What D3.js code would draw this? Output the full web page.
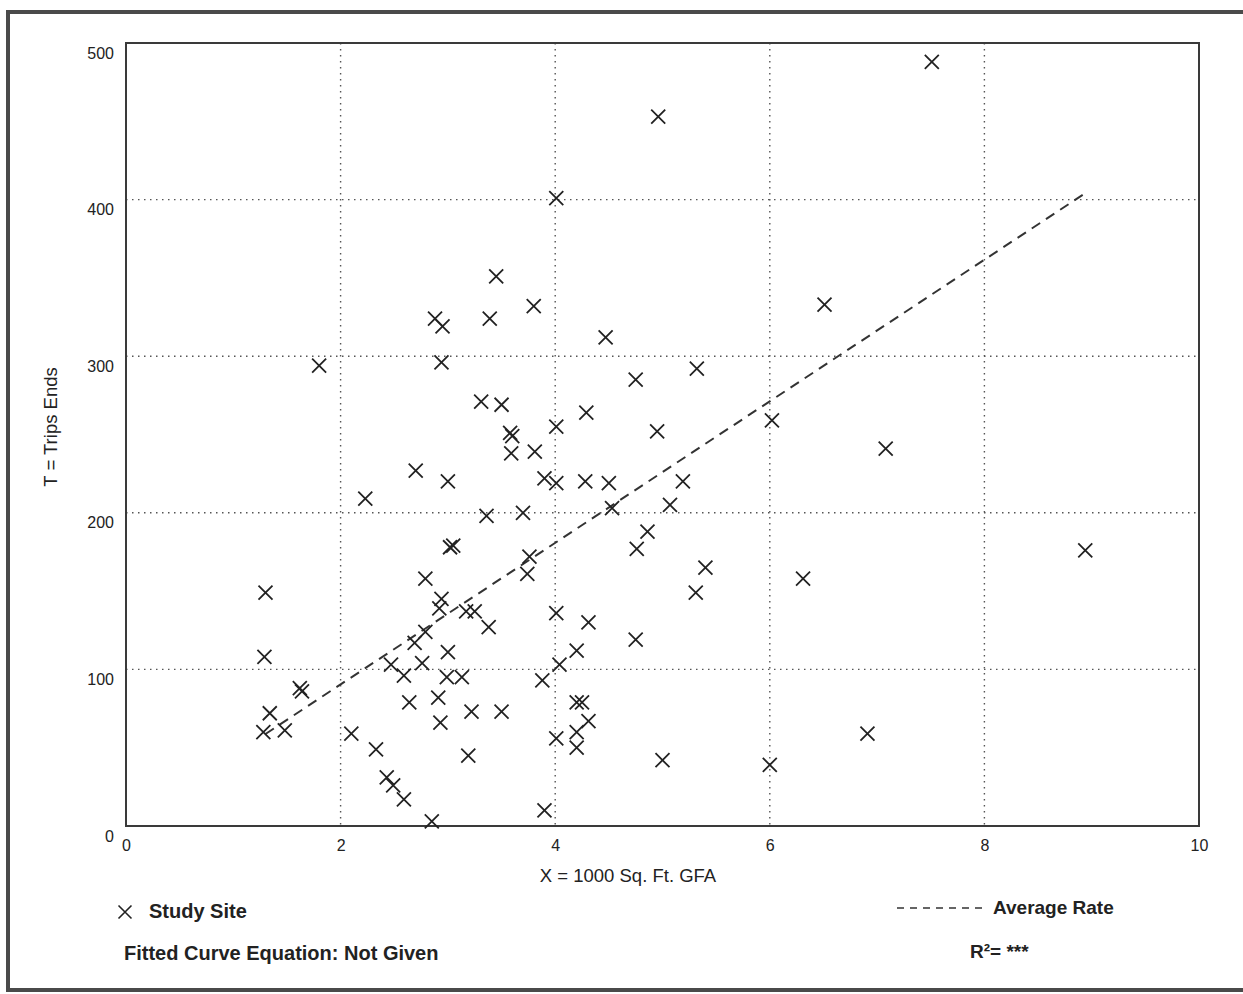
<!DOCTYPE html>
<html>
<head>
<meta charset="utf-8">
<script src="https://d3js.org/d3.v7.min.js"></script>
<style>
  body { margin: 0; background: #fff; }
  text { font-family: "Liberation Sans", Arial, sans-serif; fill: #222; }
</style>
</head>
<body>
<div id="my_dataviz"></div>
<script>
// study sites, x = 1000 sq ft GFA, y = trip ends
var siteX = [7.51, 4.96, 4.01, 3.45, 3.80, 2.88, 2.95, 3.39, 6.51, 4.47,
             2.94, 1.80, 5.32, 4.75, 3.31, 3.50, 4.29, 4.01, 4.95, 3.58,
             3.60, 3.59, 3.81, 6.02, 7.08, 2.70, 3.00, 2.23, 3.90, 4.01,
             4.28, 4.50, 5.19, 3.36, 3.70, 4.53, 5.07, 4.86, 3.02, 3.05,
             4.76, 3.76, 3.74, 5.40, 8.94, 6.31, 2.79, 1.30, 5.31, 2.94,
             2.92, 3.17, 3.25, 4.01, 3.38, 4.31, 2.79, 2.69, 4.75, 1.29,
             3.00, 4.20, 4.04, 2.47, 2.76, 2.59, 2.99, 3.13, 3.88, 1.62,
             1.64, 2.91, 2.64, 4.20, 4.25, 3.22, 3.50, 1.34, 2.93, 4.31,
             4.20, 1.28, 1.48, 2.10, 4.01, 6.91, 4.20, 2.33, 3.19, 5.00,
             6.00, 2.43, 2.49, 2.59, 3.90, 2.85];
var siteY = [488, 453, 401, 351, 332, 324, 319, 324, 333, 312,
             296, 294, 292, 285, 271, 269, 264, 255, 252, 251,
             249, 238, 239, 259, 241, 227, 220, 209, 222, 219,
             220, 219, 220, 198, 200, 203, 205, 188, 178, 179,
             177, 172, 161, 165, 176, 158, 158, 149, 149, 145,
             139, 137, 137, 136, 127, 130, 124, 117, 119, 108,
             111, 112, 103, 103, 104, 96, 95, 95, 93, 88,
             86, 82, 79, 79, 79, 73, 73, 72, 66, 67,
             60, 60, 61, 59, 56, 59, 50, 49, 45, 42,
             39, 31, 26, 17, 10, 3];

var avgRate = 45.2;          // trips per 1000 sq ft
var avgFrom = 1.3, avgTo = 8.95;

var xTicks = [0, 2, 4, 6, 8, 10];
var yTicks = [0, 100, 200, 300, 400, 500];

var W = 1243, H = 994;
var plot = {left: 126, right: 1199, top: 43, bottom: 826};
var font = "'Liberation Sans', Arial, sans-serif";

var svg = d3.select("#my_dataviz")
  .append("svg")
  .attr("width", W)
  .attr("height", H);

// outer frame of the page
svg.append("rect")
  .attr("x", 8).attr("y", 12)
  .attr("width", 1250).attr("height", 978)
  .attr("fill", "none")
  .attr("stroke", "#4a4a4a")
  .attr("stroke-width", 4);

var x = d3.scaleLinear().domain([0, 10]).range([plot.left, plot.right]);
var y = d3.scaleLinear().domain([0, 500]).range([plot.bottom, plot.top]);

var data = siteX.map(function(d, i) { return {x: d, y: siteY[i]}; });

// grid
svg.append("g")
  .selectAll("line")
  .data(xTicks.filter(function(d) { return d > 0 && d < 10; }))
  .enter().append("line")
  .attr("x1", function(d) { return x(d); })
  .attr("x2", function(d) { return x(d); })
  .attr("y1", plot.top).attr("y2", plot.bottom)
  .attr("stroke", "#555")
  .attr("stroke-width", 1.4)
  .attr("stroke-dasharray", "1.5,4.5");

svg.append("g")
  .selectAll("line")
  .data(yTicks.filter(function(d) { return d > 0 && d < 500; }))
  .enter().append("line")
  .attr("y1", function(d) { return y(d); })
  .attr("y2", function(d) { return y(d); })
  .attr("x1", plot.left).attr("x2", plot.right)
  .attr("stroke", "#555")
  .attr("stroke-width", 1.4)
  .attr("stroke-dasharray", "1.5,4.5");

// plot frame
svg.append("rect")
  .attr("x", plot.left).attr("y", plot.top)
  .attr("width", plot.right - plot.left)
  .attr("height", plot.bottom - plot.top)
  .attr("fill", "none")
  .attr("stroke", "#3a3a3a")
  .attr("stroke-width", 2);

// axes (labels only, the frame is the axis line)
var xAxis = svg.append("g")
  .attr("transform", "translate(0," + (plot.bottom + 14) + ")")
  .call(d3.axisBottom(x).tickValues(xTicks).tickSize(0).tickPadding(0));
xAxis.select(".domain").remove();
xAxis.selectAll("text").style("font-size", "16px").attr("fill", "#222")
  .style("font-family", font);

var yAxis = svg.append("g")
  .attr("transform", "translate(" + (plot.left - 12) + ",10)")
  .call(d3.axisLeft(y).tickValues(yTicks).tickSize(0).tickPadding(0));
yAxis.select(".domain").remove();
yAxis.selectAll("text").style("font-size", "16px").attr("fill", "#222")
  .style("font-family", font);

// axis titles
svg.append("text")
  .attr("x", 628).attr("y", 882)
  .attr("text-anchor", "middle")
  .style("font-size", "18.5px")
  .text("X = 1000 Sq. Ft. GFA");

svg.append("text")
  .attr("transform", "translate(57,427) rotate(-90)")
  .attr("text-anchor", "middle")
  .style("font-size", "18.5px")
  .text("T = Trips Ends");

// average rate line
var avgLine = d3.line()
  .x(function(d) { return x(d); })
  .y(function(d) { return y(d * avgRate); });

svg.append("path")
  .datum([avgFrom, avgTo])
  .attr("d", avgLine)
  .attr("fill", "none")
  .attr("stroke", "#333")
  .attr("stroke-width", 2)
  .attr("stroke-dasharray", "10,7");

// study site markers
function cross(cx, cy, s) {
  return "M" + (cx - s) + "," + (cy - s) + "L" + (cx + s) + "," + (cy + s) +
         "M" + (cx - s) + "," + (cy + s) + "L" + (cx + s) + "," + (cy - s);
}

svg.append("g")
  .selectAll("path")
  .data(data)
  .enter().append("path")
  .attr("d", function(d) { return cross(x(d.x), y(d.y), 7); })
  .attr("stroke", "#222")
  .attr("stroke-width", 1.8)
  .attr("fill", "none");

// legend
svg.append("path")
  .attr("d", cross(125, 912, 6.5))
  .attr("stroke", "#222")
  .attr("stroke-width", 1.6)
  .attr("fill", "none");

svg.append("text")
  .attr("x", 149).attr("y", 918)
  .style("font-size", "20px").style("font-weight", "bold")
  .text("Study Site");

svg.append("line")
  .attr("x1", 897).attr("x2", 985)
  .attr("y1", 908).attr("y2", 908)
  .attr("stroke", "#333")
  .attr("stroke-width", 1.6)
  .attr("stroke-dasharray", "7,6");

svg.append("text")
  .attr("x", 993).attr("y", 914)
  .style("font-size", "19px").style("font-weight", "bold")
  .text("Average Rate");

svg.append("text")
  .attr("x", 124).attr("y", 960)
  .style("font-size", "20px").style("font-weight", "bold")
  .text("Fitted Curve Equation: Not Given");

svg.append("text")
  .attr("x", 970).attr("y", 958)
  .style("font-size", "19px").style("font-weight", "bold")
  .text("R²= ***");
</script>
</body>
</html>
